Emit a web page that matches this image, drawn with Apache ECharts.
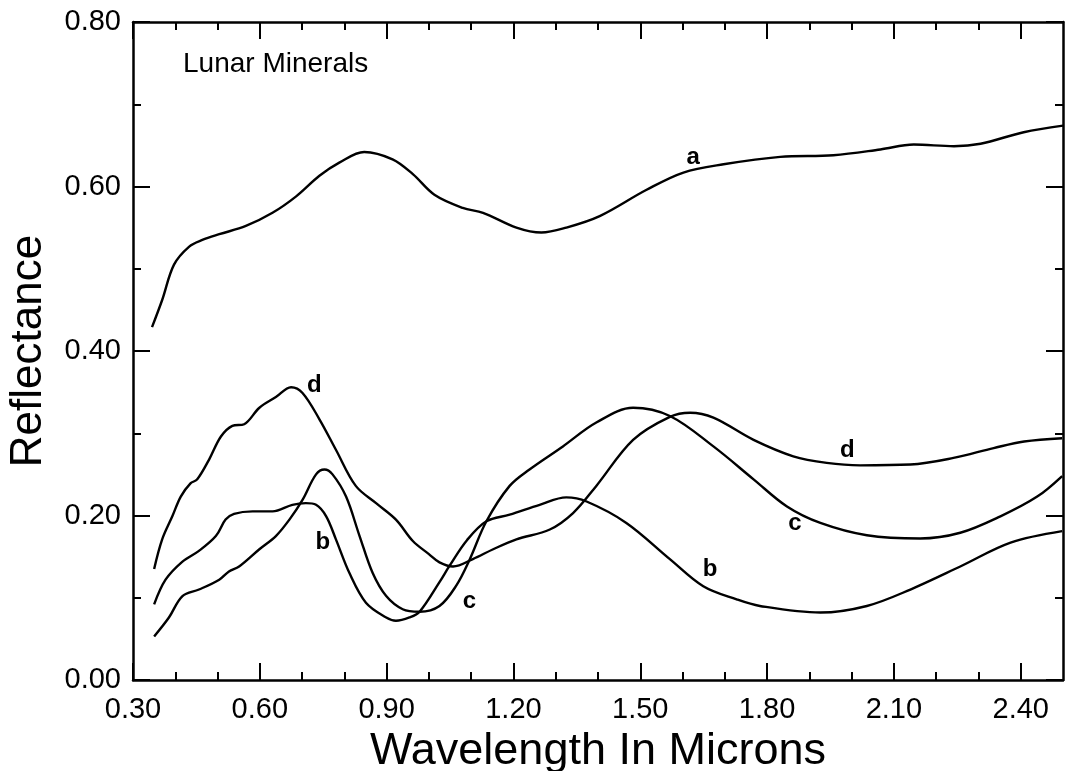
<!DOCTYPE html>
<html>
<head>
<meta charset="utf-8">
<script src="https://cdn.jsdelivr.net/npm/echarts@6/dist/echarts.min.js"></script>
<style>
html,body{margin:0;padding:0;background:#fff;}
#chart{width:1070px;height:771px;}
</style>
</head>
<body>
<div id="chart"></div>
<script>
// ---- data (wavelength in microns, reflectance) ----
const curveA = [
  [0.345,0.429],[0.369,0.462],[0.397,0.505],[0.433,0.527],[0.464,0.535],[0.504,0.542],
  [0.567,0.552],[0.630,0.568],[0.686,0.588],[0.741,0.613],[0.788,0.629],[0.847,0.642],
  [0.914,0.633],[0.962,0.615],[1.013,0.590],[1.080,0.574],[1.128,0.568],[1.207,0.550],
  [1.266,0.544],[1.325,0.550],[1.404,0.564],[1.515,0.596],[1.602,0.617],[1.697,0.627],
  [1.831,0.636],[1.957,0.638],[2.068,0.645],[2.147,0.651],[2.242,0.649],[2.305,0.652],
  [2.407,0.666],[2.500,0.674]
];
const curveB = [
  [0.350,0.092],[0.377,0.122],[0.417,0.144],[0.456,0.157],[0.496,0.175],[0.519,0.195],
  [0.539,0.202],[0.583,0.205],[0.630,0.205],[0.677,0.213],[0.709,0.215],[0.733,0.213],
  [0.757,0.199],[0.780,0.171],[0.812,0.130],[0.851,0.094],[0.899,0.076],[0.922,0.072],
  [0.954,0.076],[0.978,0.083],[1.025,0.119],[1.049,0.139],[1.090,0.170],[1.136,0.193],
  [1.191,0.201],[1.262,0.213],[1.325,0.222],[1.373,0.217],[1.467,0.191],[1.570,0.147],
  [1.649,0.114],[1.728,0.098],[1.783,0.090],[1.926,0.082],[2.036,0.090],[2.139,0.110],
  [2.257,0.138],[2.376,0.167],[2.498,0.181]
];
const curveC = [
  [0.350,0.053],[0.385,0.076],[0.417,0.102],[0.456,0.110],[0.504,0.122],[0.527,0.132],
  [0.551,0.138],[0.599,0.159],[0.638,0.175],[0.670,0.195],[0.701,0.219],[0.733,0.250],
  [0.753,0.256],[0.772,0.250],[0.804,0.223],[0.836,0.175],[0.867,0.130],[0.899,0.102],
  [0.938,0.086],[0.978,0.083],[1.025,0.090],[1.065,0.115],[1.096,0.146],[1.136,0.193],
  [1.191,0.236],[1.238,0.256],[1.317,0.284],[1.396,0.313],[1.483,0.331],[1.570,0.321],
  [1.673,0.284],[1.768,0.244],[1.847,0.211],[1.926,0.191],[2.036,0.176],[2.162,0.172],
  [2.257,0.179],[2.352,0.199],[2.439,0.223],[2.498,0.248]
];
const curveD = [
  [0.350,0.135],[0.369,0.171],[0.393,0.199],[0.413,0.223],[0.436,0.239],[0.452,0.244],
  [0.480,0.268],[0.508,0.296],[0.535,0.309],[0.563,0.311],[0.599,0.331],[0.638,0.344],
  [0.674,0.356],[0.701,0.349],[0.741,0.317],[0.780,0.280],[0.827,0.236],[0.875,0.215],
  [0.922,0.195],[0.962,0.169],[1.000,0.153],[1.025,0.143],[1.057,0.138],[1.104,0.147],
  [1.152,0.159],[1.207,0.171],[1.286,0.183],[1.341,0.203],[1.396,0.236],[1.483,0.292],
  [1.570,0.320],[1.618,0.325],[1.673,0.319],[1.768,0.292],[1.862,0.272],[1.941,0.264],
  [2.020,0.261],[2.139,0.262],[2.241,0.270],[2.336,0.282],[2.408,0.290],[2.498,0.294]
];
// curve letter annotations [wavelength, reflectance, text]
const curveLabels = [
  [1.625,0.636,'a'],
  [0.729,0.358,'d'],[1.990,0.279,'d'],
  [0.749,0.167,'b'],[1.665,0.134,'b'],
  [1.096,0.096,'c'],[1.866,0.191,'c']
];
const xMajorTicks = [0.3,0.6,0.9,1.2,1.5,1.8,2.1,2.4];
const xMinorTicks = [0.4,0.5,0.7,0.8,1.0,1.1,1.3,1.4,1.6,1.7,1.9,2.0,2.2,2.3];
const xTickLabels = ['0.30','0.60','0.90','1.20','1.50','1.80','2.10','2.40'];
const yTickLabels = ['0.00','0.20','0.40','0.60','0.80'];
const chartTitle = 'Lunar Minerals';
const xTitle = 'Wavelength In Microns';
const yTitle = 'Reflectance';

// ---- chart ----
const FONT = 'Liberation Sans, Arial, sans-serif';
const lineStyleAxis = {color:'#000', width:2.5};
function xAxisDef(pos, ticks, len, showLabels, showLine){
  return {
    type:'value', position:pos, min:0.3, max:2.5,
    axisLine:{show:showLine, onZero:false, lineStyle:lineStyleAxis},
    axisTick:{show:true, inside:true, length:len, customValues:ticks, lineStyle:{color:'#000', width:2}},
    axisLabel:{show:showLabels, customValues:xMajorTicks, margin:15, fontFamily:FONT, fontSize:29, color:'#000',
      formatter:function(v){ const i = xMajorTicks.findIndex(t=>Math.abs(t-v)<1e-6); return i>=0 ? xTickLabels[i] : ''; }},
    splitLine:{show:false}
  };
}
const xAxes = [
  Object.assign(xAxisDef('bottom', xMajorTicks, 17, true, true), {
    name:xTitle, nameLocation:'middle', nameGap:47,
    nameTextStyle:{fontFamily:FONT, fontSize:45, color:'#000'}
  }),
  xAxisDef('bottom', xMinorTicks, 8, false, false),
  xAxisDef('top', xMajorTicks, 17, false, true),
  xAxisDef('top', xMinorTicks, 8, false, false)
];
function yAxisDef(pos, showLabels){
  return {
    type:'value', position:pos, min:0, max:0.8, interval:0.2,
    axisLine:{show:true, onZero:false, lineStyle:lineStyleAxis},
    axisTick:{show:true, inside:true, length:17, lineStyle:{color:'#000', width:2}},
    minorTick:{show:true, splitNumber:2, length:8, lineStyle:{color:'#000', width:2}},
    axisLabel:{show:showLabels, margin:12, fontFamily:FONT, fontSize:29, color:'#000',
      formatter:function(v){ const i = Math.round(v/0.2); return yTickLabels[i] || ''; }},
    splitLine:{show:false}, minorSplitLine:{show:false}
  };
}
const yAxes = [
  Object.assign(yAxisDef('left', true), {
    name:yTitle, nameLocation:'middle', nameGap:82, nameRotate:90,
    nameTextStyle:{fontFamily:FONT, fontSize:44, color:'#000'}
  }),
  yAxisDef('right', false)
];
function lineSeries(name, data){
  return {name:name, type:'line', data:data, xAxisIndex:0, yAxisIndex:0,
    showSymbol:false, symbol:'none', smooth:0.35, silent:true,
    lineStyle:{color:'#000', width:2.4}};
}
const chart = echarts.init(document.getElementById('chart'), null, {renderer:'canvas'});
chart.setOption({
  animation:false,
  backgroundColor:'#fff',
  title:{text:chartTitle, left:178, top:45,
    textStyle:{fontFamily:FONT, fontSize:28, fontWeight:'normal', color:'#000'}},
  grid:{left:133, right:7, top:22, bottom:91, containLabel:false, outerBoundsMode:'none'},
  xAxis:xAxes,
  yAxis:yAxes,
  series:[
    lineSeries('a', curveA),
    lineSeries('b', curveB),
    lineSeries('c', curveC),
    lineSeries('d', curveD),
    {type:'scatter', data:curveLabels, symbolSize:0, silent:true, z:5,
      encode:{x:0, y:1},
      itemStyle:{opacity:1, color:'#000'},
      label:{show:true, position:'inside', formatter:function(p){return p.value[2];},
        fontFamily:FONT, fontSize:24, fontWeight:'bold', color:'#000', opacity:1}}
  ]
});
</script>
</body>
</html>
